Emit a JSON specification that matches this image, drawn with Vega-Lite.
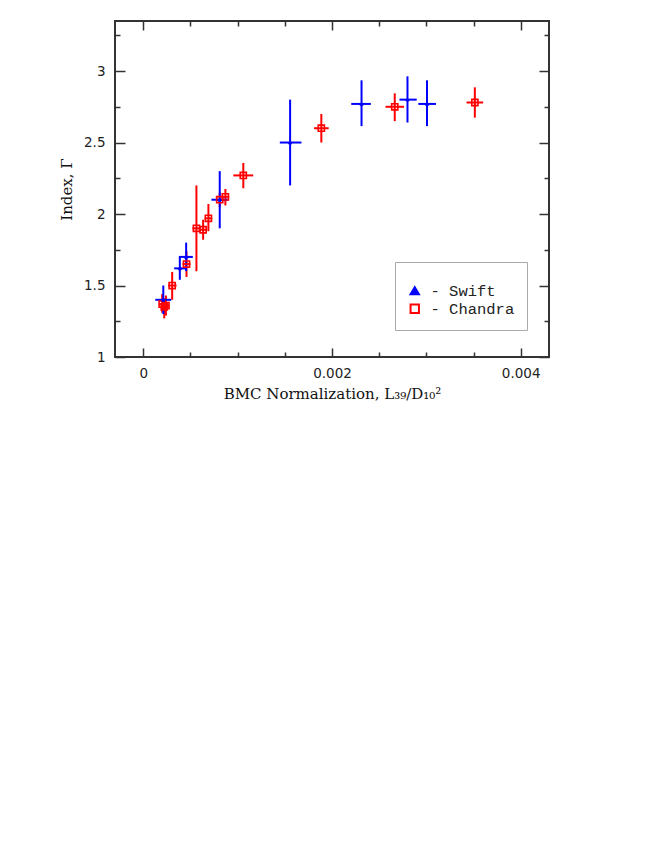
{
  "$schema": "https://vega.github.io/schema/vega-lite/v6.json",
  "width": 434,
  "height": 336,
  "autosize": "none",
  "padding": {"left": 115, "top": 21, "right": 105, "bottom": 489},
  "background": "white",
  "data": {
    "values": [
      {"inst": "Chandra", "x": 0.000200, "xlo": 0.000165, "xhi": 0.000235, "y": 1.37, "ylo": 1.31, "yhi": 1.44},
      {"inst": "Chandra", "x": 0.000222, "xlo": 0.000185, "xhi": 0.000260, "y": 1.35, "ylo": 1.27, "yhi": 1.41},
      {"inst": "Chandra", "x": 0.000240, "xlo": 0.000205, "xhi": 0.000275, "y": 1.36, "ylo": 1.29, "yhi": 1.43},
      {"inst": "Chandra", "x": 0.000306, "xlo": 0.000264, "xhi": 0.000352, "y": 1.50, "ylo": 1.40, "yhi": 1.595},
      {"inst": "Chandra", "x": 0.000458, "xlo": 0.000415, "xhi": 0.000500, "y": 1.65, "ylo": 1.56, "yhi": 1.74},
      {"inst": "Chandra", "x": 0.000563, "xlo": 0.000521, "xhi": 0.000602, "y": 1.90, "ylo": 1.60, "yhi": 2.20},
      {"inst": "Chandra", "x": 0.000634, "xlo": 0.000592, "xhi": 0.000676, "y": 1.89, "ylo": 1.82, "yhi": 1.96},
      {"inst": "Chandra", "x": 0.000690, "xlo": 0.000650, "xhi": 0.000730, "y": 1.97, "ylo": 1.88, "yhi": 2.07},
      {"inst": "Chandra", "x": 0.000810, "xlo": 0.000770, "xhi": 0.000850, "y": 2.10, "ylo": 2.05, "yhi": 2.15},
      {"inst": "Chandra", "x": 0.000870, "xlo": 0.000830, "xhi": 0.000910, "y": 2.12, "ylo": 2.06, "yhi": 2.175},
      {"inst": "Chandra", "x": 0.001060, "xlo": 0.000954, "xhi": 0.001165, "y": 2.27, "ylo": 2.18, "yhi": 2.357},
      {"inst": "Chandra", "x": 0.001887, "xlo": 0.001810, "xhi": 0.001965, "y": 2.60, "ylo": 2.50, "yhi": 2.70},
      {"inst": "Chandra", "x": 0.002665, "xlo": 0.002567, "xhi": 0.002764, "y": 2.75, "ylo": 2.65, "yhi": 2.844},
      {"inst": "Chandra", "x": 0.003514, "xlo": 0.003426, "xhi": 0.003602, "y": 2.78, "ylo": 2.674, "yhi": 2.886},
      {"inst": "Swift", "x": 0.000212, "xlo": 0.000127, "xhi": 0.000296, "y": 1.40, "ylo": 1.30, "yhi": 1.50},
      {"inst": "Swift", "x": 0.000387, "xlo": 0.000327, "xhi": 0.000447, "y": 1.62, "ylo": 1.54, "yhi": 1.70},
      {"inst": "Swift", "x": 0.000454, "xlo": 0.000377, "xhi": 0.000525, "y": 1.70, "ylo": 1.60, "yhi": 1.80},
      {"inst": "Swift", "x": 0.000810, "xlo": 0.000722, "xhi": 0.000901, "y": 2.10, "ylo": 1.90, "yhi": 2.30},
      {"inst": "Swift", "x": 0.001556, "xlo": 0.001447, "xhi": 0.001676, "y": 2.50, "ylo": 2.20, "yhi": 2.80},
      {"inst": "Swift", "x": 0.002313, "xlo": 0.002204, "xhi": 0.002412, "y": 2.77, "ylo": 2.615, "yhi": 2.935},
      {"inst": "Swift", "x": 0.002800, "xlo": 0.002715, "xhi": 0.002898, "y": 2.80, "ylo": 2.64, "yhi": 2.963},
      {"inst": "Swift", "x": 0.003007, "xlo": 0.002915, "xhi": 0.003102, "y": 2.77, "ylo": 2.615, "yhi": 2.935}
    ]
  },
  "resolve": {"axis": {"x": "independent", "y": "independent"}},
  "layer": [
    {
      "mark": {"type": "rule", "strokeWidth": 2},
      "encoding": {
        "x": {
          "field": "x", "type": "quantitative",
          "scale": {"domain": [-0.0003, 0.0043], "nice": false, "zero": false},
          "axis": {
            "orient": "bottom",
            "values": [0, 0.0005, 0.001, 0.0015, 0.002, 0.0025, 0.003, 0.0035, 0.004],
            "format": "~g",
            "labelExpr": "indexof(['0', '0.002', '0.004'], datum.label) >= 0 ? datum.label : ''",
            "tickSize": {"condition": {"test": "abs(datum.value / 0.002 - round(datum.value / 0.002)) < 0.001", "value": -9}, "value": -5},
            "labelPadding": 18,
            "title": "BMC Normalization, L₃₉/D₁₀²",
            "titlePadding": 7
          }
        },
        "y": {
          "field": "ylo", "type": "quantitative",
          "scale": {"domain": [1, 3.35], "nice": false, "zero": false},
          "axis": {
            "orient": "left",
            "values": [1, 1.25, 1.5, 1.75, 2, 2.25, 2.5, 2.75, 3, 3.25],
            "format": "~g",
            "labelExpr": "indexof(['1', '1.5', '2', '2.5', '3'], datum.label) >= 0 ? datum.label : ''",
            "tickSize": {"condition": {"test": "abs(datum.value * 2 - round(datum.value * 2)) < 0.001", "value": -10}, "value": -5},
            "labelPadding": 20,
            "title": "Index, Γ",
            "titlePadding": 9
          }
        },
        "y2": {"field": "yhi"},
        "color": {
          "field": "inst", "type": "nominal",
          "scale": {"domain": ["Swift", "Chandra"], "range": ["#0000ff", "#ff0000"]},
          "legend": {
            "title": " ",
            "titleFontSize": 9,
            "titlePadding": 0,
            "labelExpr": "'- ' + datum.label"
          }
        }
      }
    },
    {
      "mark": {"type": "rule", "strokeWidth": 2},
      "encoding": {
        "x": {
          "field": "xlo", "type": "quantitative",
          "axis": {
            "orient": "top",
            "values": [0, 0.0005, 0.001, 0.0015, 0.002, 0.0025, 0.003, 0.0035, 0.004],
            "labels": false,
            "tickSize": {"condition": {"test": "abs(datum.value / 0.002 - round(datum.value / 0.002)) < 0.001", "value": -9}, "value": -5},
            "title": null
          }
        },
        "x2": {"field": "xhi"},
        "y": {
          "field": "y", "type": "quantitative",
          "axis": {
            "orient": "right",
            "values": [1, 1.25, 1.5, 1.75, 2, 2.25, 2.5, 2.75, 3, 3.25],
            "labels": false,
            "tickSize": {"condition": {"test": "abs(datum.value * 2 - round(datum.value * 2)) < 0.001", "value": -10}, "value": -5},
            "title": null
          }
        },
        "color": {"field": "inst", "type": "nominal"}
      }
    },
    {
      "transform": [{"filter": "datum.inst == 'Chandra'"}],
      "mark": {"type": "point", "strokeWidth": 1.6, "opacity": 1, "filled": false, "size": 38},
      "encoding": {
        "x": {"field": "x", "type": "quantitative", "axis": null},
        "y": {"field": "y", "type": "quantitative", "axis": null},
        "color": {"field": "inst", "type": "nominal"},
        "shape": {
          "field": "inst", "type": "nominal",
          "scale": {"domain": ["Swift", "Chandra"], "range": ["triangle-up", "square"]}
        },
        "fill": {
          "field": "inst", "type": "nominal",
          "scale": {"domain": ["Swift", "Chandra"], "range": ["#0000ff", "transparent"]}
        }
      }
    },
    {
      "transform": [{"filter": "datum.inst == 'Swift'"}],
      "mark": {"type": "point", "strokeWidth": 1, "opacity": 1, "filled": false, "size": 10},
      "encoding": {
        "x": {"field": "x", "type": "quantitative", "axis": null},
        "y": {"field": "y", "type": "quantitative", "axis": null},
        "color": {"field": "inst", "type": "nominal"},
        "shape": {"field": "inst", "type": "nominal"},
        "fill": {"field": "inst", "type": "nominal"}
      }
    }
  ],
  "config": {
    "view": {"stroke": "#333333", "strokeWidth": 2},
    "axis": {
      "domain": false,
      "grid": false,
      "tickColor": "#333333",
      "tickWidth": 1.5,
      "labelFont": "DejaVu Sans",
      "labelFontSize": 13.5,
      "labelColor": "#222222",
      "titleFont": "DejaVu Serif",
      "titleFontSize": 15,
      "titleFontWeight": "normal",
      "titleColor": "#111111"
    },
    "legend": {
      "orient": "none",
      "legendX": 280,
      "legendY": 241,
      "padding": 12,
      "fillColor": "white",
      "strokeColor": "#aaaaaa",
      "symbolSize": 70,
      "symbolStrokeWidth": 2,
      "labelFont": "Liberation Mono",
      "labelFontSize": 15.5,
      "labelColor": "#222222",
      "labelOffset": 8,
      "rowPadding": 0
    }
  }
}
